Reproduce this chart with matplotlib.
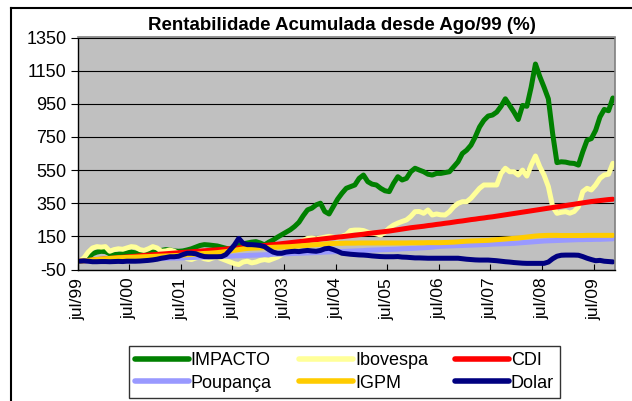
import matplotlib
matplotlib.use("Agg")
import matplotlib.pyplot as plt
from matplotlib.lines import Line2D

plt.rcParams['font.family'] = ['Liberation Sans', 'DejaVu Sans']
plt.rcParams['axes.unicode_minus'] = False

# monthly accumulated return (%), jul/99 .. nov/09
impacto = [
    0, 5, 20, 45, 55, 60, 58, 45, 40, 42, 48, 52,
    55, 50, 48, 52, 60, 55, 58, 65, 70, 68, 62, 60,
    62, 68, 75, 85, 95, 100, 98, 95, 92, 85, 78, 72,
    80, 95, 105, 110, 115, 118, 110, 98, 115, 128, 145, 160,
    175, 190, 210, 235, 275, 310, 320, 340, 350, 300, 285, 330,
    375, 410, 440, 450, 460, 500, 520, 480, 465, 460, 440, 425,
    420, 470, 510, 490, 500, 540, 561, 550, 540, 525, 520, 530,
    530, 535, 540, 570, 600, 650, 670, 700, 750, 810, 850, 876,
    882, 900, 935, 980, 940, 900, 855, 940, 935, 1050, 1190, 1115,
    1050, 980, 770, 595, 600, 598, 592, 590, 580, 660, 730, 740,
    790, 870, 916, 908, 985,
]
ibovespa = [
    0, 20, 55, 80, 88, 85, 88, 60, 70, 75, 72, 80,
    88, 85, 70, 65, 75, 88, 80, 60, 62, 68, 60, 45,
    30, 15, 10, 20, 25, 15, 10, 20, 25, 15, 5, -5,
    -15, -20, -5, 0, -10, -5, 5, 10, 5, 15, 25, 40,
    60, 80, 100, 115, 125, 138, 140, 135, 140, 145, 150, 145,
    140, 150, 160, 185, 188, 188, 185, 175, 170, 165, 158, 175,
    200, 218, 230, 240, 249, 270, 299, 300, 289, 309, 279, 285,
    280, 279, 299, 329, 349, 359, 359, 380, 410, 440, 460, 460,
    460, 460, 530, 561, 540, 540, 520, 550, 514, 580, 635, 570,
    520, 450, 330, 289, 295, 299, 290, 300, 329, 420, 440, 430,
    460, 500, 520, 525, 591,
]
cdi = [
    0, 2, 5, 7, 10, 12, 15, 17, 19, 22, 24, 26,
    28, 30, 33, 35, 37, 39, 41, 43, 45, 47, 49, 51,
    53, 55, 57, 59, 61, 63, 65, 67, 69, 71, 73, 76,
    78, 80, 83, 85, 88, 90, 93, 95, 98, 100, 103, 106,
    109, 112, 115, 118, 121, 124, 127, 130, 133, 136, 139, 142,
    145, 148, 151, 154, 157, 160, 163, 167, 170, 173, 176, 179,
    182, 186, 190, 194, 198, 202, 205, 208, 211, 215, 218, 222,
    225, 229, 232, 236, 240, 243, 247, 251, 254, 258, 261, 265,
    268, 272, 276, 280, 284, 288, 292, 296, 300, 304, 308, 312,
    316, 320, 324, 328, 332, 336, 340, 344, 348, 352, 356, 360,
    363, 366, 369, 372, 374,
]
poupanca = [
    0, 1, 2, 3, 3, 4, 5, 6, 7, 7, 8, 9,
    10, 11, 12, 13, 13, 14, 15, 16, 17, 18, 19, 19,
    20, 21, 22, 23, 24, 25, 26, 27, 28, 29, 30, 31,
    32, 33, 34, 35, 36, 37, 38, 39, 40, 42, 43, 44,
    45, 46, 47, 48, 49, 50, 51, 52, 53, 55, 56, 57,
    58, 59, 60, 61, 62, 63, 64, 66, 67, 68, 69, 70,
    71, 72, 73, 75, 76, 77, 78, 80, 81, 83, 85, 88,
    90, 91, 92, 93, 94, 95, 96, 97, 98, 99, 100, 101,
    103, 104, 105, 106, 107, 108, 110, 112, 114, 116, 118, 120,
    122, 123, 124, 125, 126, 127, 128, 129, 130, 130, 131, 131,
    132, 132, 133, 134, 135,
]
igpm = [
    0, 2, 5, 8, 11, 13, 15, 17, 19, 21, 22, 23,
    24, 25, 26, 27, 28, 29, 30, 31, 32, 33, 34, 35,
    37, 39, 41, 43, 45, 47, 48, 50, 52, 55, 58, 62,
    66, 70, 74, 77, 79, 80, 81, 82, 83, 84, 85, 86,
    87, 88, 90, 92, 94, 96, 98, 100, 102, 104, 106, 107,
    108, 108, 109, 109, 109, 110, 110, 110, 110, 110, 110, 110,
    110, 110, 110, 110, 110, 111, 111, 111, 111, 112, 112, 112,
    112, 113, 114, 115, 117, 119, 121, 122, 123, 124, 125, 126,
    128, 130, 132, 134, 136, 138, 140, 143, 146, 149, 152, 154,
    155, 156, 156, 156, 155, 155, 155, 155, 155, 155, 156, 156,
    156, 156, 156, 156, 156,
]
dolar = [
    0, 2, 0, -3, -3, -2, -2, -3, -2, -1, -2, 0,
    0, 0, 1, 3, 5, 8, 12, 18, 22, 27, 27, 30,
    40, 48, 48, 45, 35, 28, 27, 27, 27, 28, 40, 68,
    98, 138, 108, 100, 100, 98, 95, 88, 70, 55, 48, 48,
    55, 58, 60, 58, 62, 65, 62, 60, 65, 75, 78, 70,
    60, 48, 45, 42, 40, 38, 37, 35, 32, 30, 28, 27,
    27, 27, 28, 25, 24, 22, 20, 20, 19, 18, 18, 18,
    18, 18, 18, 18, 18, 15, 12, 10, 8, 7, 7, 7,
    5, 3, 0, -3, -5, -8, -10, -12, -13, -13, -13, -13,
    -13, -5, 15, 30, 36, 37, 37, 37, 36, 28, 18, 10,
    3, 5, 0, -2, -4,
]
tick_labels = ['jul/99', 'jul/00', 'jul/01', 'jul/02', 'jul/03', 'jul/04',
               'jul/05', 'jul/06', 'jul/07', 'jul/08', 'jul/09']

series = [
    ('IMPACTO', impacto, '#008000'),
    ('Ibovespa', ibovespa, '#FFFF99'),
    ('CDI', cdi, '#FF0000'),
    ('Poupança', poupanca, '#9999FF'),
    ('IGPM', igpm, '#FFCC00'),
    ('Dolar', dolar, '#000080'),
]

W, H = 632, 401
fig = plt.figure(figsize=(W / 100, H / 100), dpi=100)
fig.patch.set_facecolor('white')
ax = fig.add_axes([77.5 / W, 1 - 269.5 / H, (615 - 77.5) / W, (269.5 - 37.5) / H])
ax.set_facecolor('#C0C0C0')

n = len(impacto)
xs = [i + 0.5 for i in range(n)]
handles = {}
for name, vals, color in series:
    ln, = ax.plot(xs, vals, color=color, lw=3.6, solid_capstyle='round',
                  solid_joinstyle='round', label=name)
    handles[name] = ln

ax.set_xlim(0, n)
ax.set_ylim(-50, 1350)
ax.set_yticks(range(-50, 1351, 200))
ax.set_xticks(range(0, 121, 12))
ax.set_xticklabels(tick_labels, rotation=90, fontsize=12.5)
ax.tick_params(axis='y', labelsize=13, direction='out', length=5, width=0.8, pad=3)
ax.tick_params(axis='x', direction='in', length=4, width=0.8, pad=6)
ax.yaxis.grid(True, color='black', lw=0.8)
ax.set_axisbelow(True)
for side in ['top', 'right']:
    ax.spines[side].set_color('#808080')
    ax.spines[side].set_linewidth(1.2)
for side in ['left', 'bottom']:
    ax.spines[side].set_color('black')
    ax.spines[side].set_linewidth(1.0)

fig.text(342 / W, 1 - 26 / H, 'Rentabilidade Acumulada desde Ago/99 (%)',
         ha='center', va='center', fontsize=13.5, fontweight='bold')

order = ['IMPACTO', 'Poupança', 'Ibovespa', 'IGPM', 'CDI', 'Dolar']
leg = fig.legend([handles[k] for k in order], order, ncol=3, loc='center',
                 bbox_to_anchor=(344.5 / W, 1 - 372 / H), fontsize=13,
                 frameon=True, fancybox=False, edgecolor='black',
                 handlelength=3.0, handletextpad=0.1, columnspacing=1.5,
                 labelspacing=0.3, borderpad=0.35)
leg.get_frame().set_linewidth(1.0)
for l in leg.get_lines():
    l.set_linewidth(4)

# chart border
fig.add_artist(Line2D([11 / W, 1], [1 - 8 / H, 1 - 8 / H], color='black', lw=1.5,
                      transform=fig.transFigure))
fig.add_artist(Line2D([11 / W, 11 / W], [1 - 8 / H, 0], color='black', lw=1.5,
                      transform=fig.transFigure))

fig.savefig('out.png', dpi=100)
